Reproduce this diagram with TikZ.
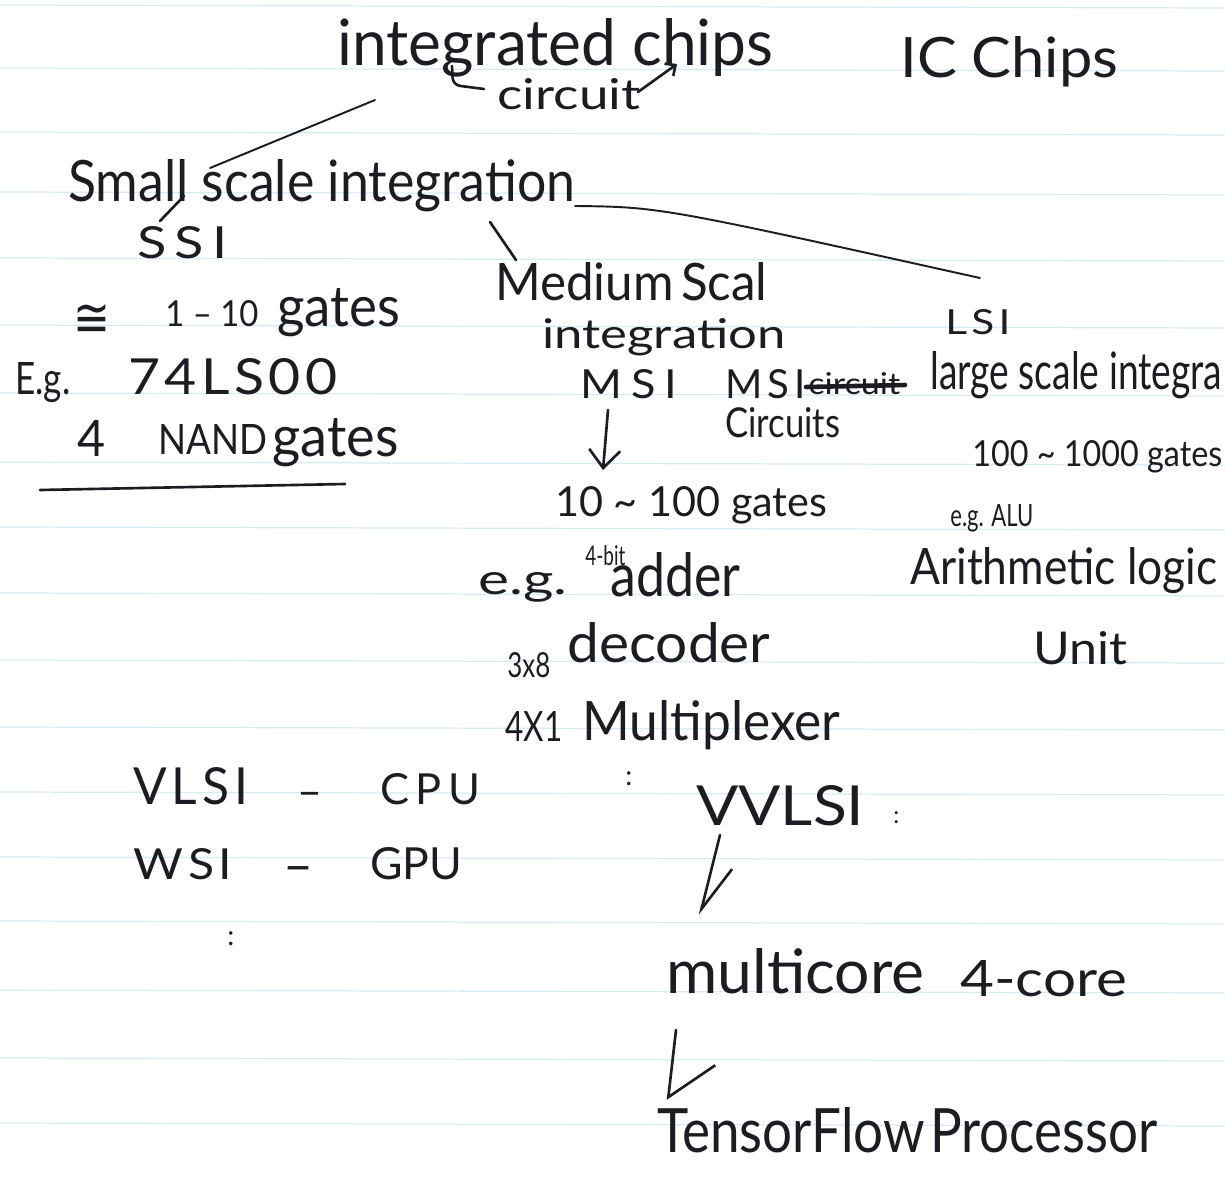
\documentclass[tikz,border=0pt]{standalone}
\usepackage{fontspec}
\setmainfont{Lato}
\newfontfamily\symfont{DejaVu Sans}
\usepackage{graphicx}
\usetikzlibrary{arrows.meta}
\definecolor{ink}{RGB}{28,28,34}
\definecolor{ruleblue}{RGB}{214,236,245}
% width and height (above the baseline) in reference pixels
\newcommand{\hw}[3]{\resizebox{\dimexpr 0.02cm*#1\relax}{\dimexpr 0.02cm*#2\relax}{#3}}
\newcommand{\hwo}[2]{\resizebox{\dimexpr 0.02cm*#1\relax}{!}{#2}}
\newcommand{\gapk}[1]{\kern#1em}
\tikzset{
  txt/.style={inner sep=0pt, anchor=base west, text=ink},
  pen/.style={draw=ink, line width=1.5pt, line cap=round, line join=round},
  thinpen/.style={draw=ink, line width=1.1pt, line cap=round},
  downarrow/.style={pen, -{Straight Barb[length=0.36cm, width=0.62cm, line width=1.5pt]}},
  smallarrow/.style={pen, -{Straight Barb[length=0.16cm, width=0.3cm, line width=1.5pt]}},
}
\begin{document}
\begin{tikzpicture}[x=0.02cm, y=-0.02cm]
\useasboundingbox (0,0) rectangle (1225,1183);
\fill[white] (0,0) rectangle (1225,1183);
\foreach \ry in {5,68,132,192,258,325,393,462,527,593,660,727,792,857,921,990,1058,1123}
  \draw[ruleblue, line width=0.7pt] (0,\ry) -- (1225,\ry+3);

% ---- top ----
\node[txt] (ic) at (337,65) {\hw{436}{47}{integrated chips}};
\node[txt] (icchips) at (900,77) {\hw{218}{41}{IC\gapk{0.25}Chips}};
\node[txt] (circ) at (497,109) {\hw{143}{31}{circuit}};
\coordinate (br1) at (452,66);
\coordinate (br2) at (484,89);
\draw[pen, rounded corners=4pt] (br1) -- (453,85) -- (br2);
\coordinate (ca1) at (638,92);
\coordinate (ca2) at (677,64);
\draw[smallarrow] (ca1) -- (ca2);

% ---- connectors from integrated ----
\coordinate (a1) at (375,100);
\coordinate (a2) at (210,168);
\draw[thinpen] (a1) -- (a2);
\coordinate (a3) at (184,196);
\coordinate (a4) at (160,221);
\draw[pen] (a3) -- (a4);

% ---- SSI ----
\node[txt] (ssi) at (68,201) {\hw{507}{42}{Small scale integration}};
\node[txt] (ssiab) at (137,258) {\hw{90}{32}{S\gapk{0.15}S\gapk{0.15}I}};
\node[txt] (approx) at (73,336) {\hw{37}{32}{\symfont ≅}};
\node[txt] (onet) at (165,326) {\hw{93}{26}{1 – 10}};
\node[txt] (gates1) at (277,326) {\hw{123}{38}{gates}};
\node[txt] (eg1a) at (15,394) {\hw{55}{32}{E.g.}};
\node[txt] (eg1b) at (128,394) {\hw{209}{36}{7\gapk{0.08}4\gapk{0.08}L\gapk{0.08}S\gapk{0.08}0\gapk{0.08}0}};
\node[txt] (four) at (77,456) {\hw{28}{36}{4}};
\node[txt] (nand) at (158,454) {\hw{109}{30}{NAND}};
\node[txt] (gates2) at (272,456) {\hw{126}{38}{gates}};
\coordinate (u1) at (40,490);
\coordinate (u2) at (345,484);
\draw[pen] (u1) -- (u2);

% ---- MSI ----
\coordinate (m1) at (490,222);
\coordinate (m2) at (516,260);
\draw[pen] (m1) -- (m2);
\node[txt] (med) at (495,300) {\hw{272}{38}{Medium\gapk{0.15}Scal}};
\node[txt] (medint) at (542,348) {\hw{243}{30}{integration}};
\node[txt] (msi) at (580,398) {\hw{97}{29}{M\gapk{0.2}S\gapk{0.2}I}};
\node[txt] (msi2) at (725,398) {\hw{80}{29}{M\gapk{0.12}S\gapk{0.12}I}};
\node[txt] (strk) at (808,394) {\hw{92}{22}{circuit}};
\coordinate (s1) at (806,387);
\coordinate (s2) at (905,385);
\draw[pen, line width=2.6pt] (s1) -- (s2);
\node[txt] (circs) at (725,437) {\hw{115}{30}{Circuits}};
\coordinate (d1) at (608,410);
\coordinate (d2) at (603,470);
\draw[downarrow] (d1) -- (d2);
\node[txt] (tenh) at (555,516) {\hw{272}{30}{10 \textasciitilde{} 100 gates}};
\node[txt] (eg2) at (478,594) {\hw{89}{22}{e.g.}};
\node[txt] (fourbit) at (585,565) {\hw{40}{20}{4-bit}};
\node[txt] (adder) at (610,596) {\hw{130}{44}{adder}};
\node[txt] (three) at (507,677) {\hw{43}{25}{3x8}};
\node[txt] (decoder) at (567,662) {\hw{203}{40}{decoder}};
\node[txt] (fourx) at (505,741) {\hw{57}{30}{4X1}};
\node[txt] (mux) at (582,740) {\hw{258}{40}{Multiplexer}};
\node[txt] (colon1) at (625,785) {\hwo{7}{:}};

% ---- LSI ----
\coordinate (l1) at (575,206);
\coordinate (l2) at (980,278);
\draw[thinpen] (l1) .. controls (660,207) .. (l2);
\node[txt] (lsi) at (945,334) {\hw{65}{25}{L\gapk{0.1}S\gapk{0.1}I}};
\node[txt] (lsiname) at (930,389) {\hw{292}{38}{large scale integra}};
\node[txt] (hund) at (972,466) {\hw{250}{26}{100 \textasciitilde{} 1000 gates}};
\node[txt] (eg3) at (950,526) {\hw{83}{22}{e.g. ALU}};
\node[txt] (arith) at (910,584) {\hw{307}{37}{Arithmetic logic}};
\node[txt] (unit) at (1033,664) {\hw{94}{33}{Unit}};

% ---- lower left ----
\node[txt] (vlsi) at (133,804) {\hw{115}{37}{V\gapk{0.1}L\gapk{0.1}S\gapk{0.1}I}};
\node[txt] (dash1) at (297,806) {\hwo{25}{–}};
\node[txt] (cpu) at (380,804) {\hw{100}{31}{C\gapk{0.15}P\gapk{0.15}U}};
\node[txt] (wsi) at (133,879) {\hw{99}{31}{W\gapk{0.1}S\gapk{0.1}I}};
\node[txt] (dash2) at (283,883) {\hwo{30}{–}};
\node[txt] (gpu) at (370,879) {\hw{92}{32}{GPU}};
\node[txt] (colon2) at (227,945) {\hwo{7}{:}};

% ---- VVLSI chain ----
\node[txt] (vvlsi) at (696,825) {\hw{168}{40}{VVLSI}};
\node[txt] (colon3) at (893,823) {\hwo{6}{:}};
\coordinate (e1) at (720,835);
\coordinate (e2) at (700,915);
\draw[pen, -{Straight Barb[length=0.92cm, width=0.8cm, harpoon, line width=1.5pt]}] (e1) -- (e2);
\node[txt] (multi) at (666,993) {\hw{258}{45}{multicore}};
\node[txt] (fourcore) at (960,996) {\hw{167}{36}{4-core}};
\coordinate (f1) at (676,1030);
\coordinate (f2) at (668,1100);
\draw[pen, -{Straight Barb[length=0.74cm, width=1.72cm, harpoon, line width=1.5pt]}] (f1) -- (f2);
\node[txt] (tensor) at (657,1152) {\hw{500}{45}{TensorFlow\gapk{0.1}Processor}};
\end{tikzpicture}
\end{document}
